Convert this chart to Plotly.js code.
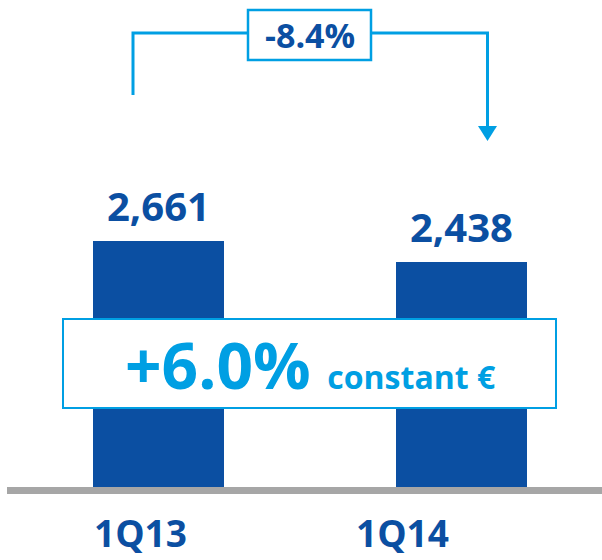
<!DOCTYPE html>
<html>
<head>
<meta charset="utf-8">
<script src="https://cdn.plot.ly/plotly-3.0.1.min.js"></script>
<style>html,body{margin:0;padding:0;background:#fff;}#chart{width:602px;height:560px;}</style>
</head>
<body>
<div id="chart"></div>
<script>
const categories = ['1Q13', '1Q14'];
const values = [2661, 2438];
const valueLabels = ['2,661', '2,438'];
const changeNominal = '-8.4%';
const changeConstant = '+6.0%';
const constantLabel = 'constant €';

const W = 602, H = 560;
const px = v => v / W;
const py = v => (H - v) / H;

const darkBlue = '#0B4FA2';
const lightBlue = '#009FE3';
const grey = '#A6A6A6';
const FONT = 'Open Sans, Noto Sans, sans-serif';

const xs = categories.map((c, i) => i);

const trace = {
  type: 'bar',
  x: xs,
  y: values,
  width: 0.433,
  marker: {color: darkBlue, line: {width: 0}},
  hoverinfo: 'skip'
};

const catPos = [140, 402];

const annotations = [];
values.forEach((v, i) => {
  annotations.push({
    x: xs[i], y: v, xref: 'x', yref: 'y',
    xanchor: 'center', yanchor: 'bottom', yshift: 6,
    text: valueLabels[i], showarrow: false,
    font: {family: FONT, size: 40, color: darkBlue, weight: 700}
  });
  annotations.push({
    x: px(catPos[i]), y: 0, xref: 'paper', yref: 'paper',
    xanchor: 'center', yanchor: 'bottom', yshift: 0,
    text: categories[i], showarrow: false,
    font: {family: FONT, size: 37, color: darkBlue, weight: 700}
  });
});
annotations.push({
  x: px(309.5), y: py(35), xref: 'paper', yref: 'paper',
  xanchor: 'center', yanchor: 'middle',
  text: changeNominal, showarrow: false,
  font: {family: FONT, size: 34, color: darkBlue, weight: 700}
});
annotations.push({
  x: px(310.5), y: py(364), xref: 'paper', yref: 'paper',
  xanchor: 'center', yanchor: 'middle',
  text: changeConstant + ' <span style="font-size:32px">' + constantLabel + '</span>',
  showarrow: false,
  font: {family: FONT, size: 64, color: lightBlue, weight: 700}
});

const shapes = [
  {type: 'rect', xref: 'paper', yref: 'paper', x0: px(7), x1: px(602), y0: py(494), y1: py(487),
   fillcolor: grey, line: {width: 0}, layer: 'above'},
  {type: 'rect', xref: 'paper', yref: 'paper', x0: px(63), x1: px(556), y0: py(408), y1: py(319),
   fillcolor: '#ffffff', line: {color: lightBlue, width: 2}, layer: 'above'},
  {type: 'path', xref: 'paper', yref: 'paper',
   path: `M ${px(133)} ${py(95)} L ${px(133)} ${py(33)} L ${px(487.5)} ${py(33)} L ${px(487.5)} ${py(128)}`,
   line: {color: lightBlue, width: 3}, layer: 'above'},
  {type: 'path', xref: 'paper', yref: 'paper',
   path: `M ${px(478)} ${py(126)} L ${px(497)} ${py(126)} L ${px(487.5)} ${py(141)} Z`,
   fillcolor: lightBlue, line: {width: 0}, layer: 'above'},
  {type: 'rect', xref: 'paper', yref: 'paper', x0: px(248), x1: px(371), y0: py(60), y1: py(10),
   fillcolor: '#ffffff', line: {color: lightBlue, width: 2.5}, layer: 'above'}
];

const layout = {
  width: W, height: H,
  margin: {l: 0, r: 0, t: 0, b: 0, pad: 0},
  paper_bgcolor: '#ffffff', plot_bgcolor: '#ffffff',
  showlegend: false,
  xaxis: {range: [-0.524, 1.466], visible: false, fixedrange: true},
  yaxis: {range: [0, 5268], domain: [73 / H, 1], visible: false, fixedrange: true},
  bargap: 0,
  shapes: shapes,
  annotations: annotations
};

Plotly.newPlot('chart', [trace], layout, {displayModeBar: false, staticPlot: true});
</script>
</body>
</html>
